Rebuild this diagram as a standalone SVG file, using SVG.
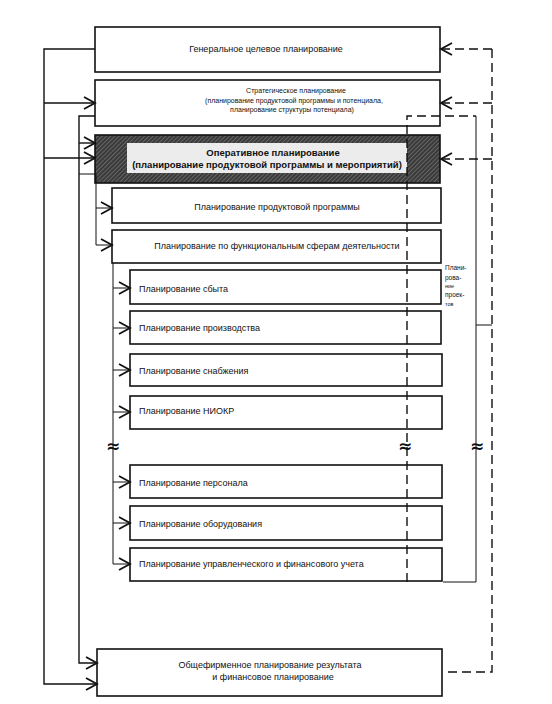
<svg xmlns="http://www.w3.org/2000/svg" width="552" height="704" viewBox="0 0 552 704">
<defs>
<pattern id="hatch" width="3" height="3" patternUnits="userSpaceOnUse" patternTransform="rotate(45)">
<rect width="3" height="3" fill="#3a3a3a"/>
<line x1="0" y1="0" x2="0" y2="3" stroke="#9a9a9a" stroke-width="0.9"/>
</pattern>
<marker id="arr" markerUnits="userSpaceOnUse" markerWidth="14" markerHeight="14" refX="11" refY="6" orient="auto" overflow="visible">
<path d="M0,0 L11,6 L0,12" fill="none" stroke="#111" stroke-width="1.8"/>
</marker>
</defs>
<style>
.box{fill:#fff;stroke:#111;stroke-width:1.6}
.t{font-family:"Liberation Sans",Arial,sans-serif;font-size:9px;fill:#111}
.s{font-size:7px}
.m{font-size:9px}
.b{font-weight:bold;font-size:9.5px}
.c{text-anchor:middle}
.ln{fill:none;stroke:#111;stroke-width:1.4}
.dash{fill:none;stroke:#111;stroke-width:1.4;stroke-dasharray:9,5}
.thin{fill:none;stroke:#111;stroke-width:1}
.brk{font-family:"DejaVu Sans",sans-serif;font-size:17px;font-weight:bold;fill:#111;text-anchor:middle}
</style>
<rect width="552" height="704" fill="#fff"/>

<g id="n1"><rect class="box" x="95" y="27" width="345" height="45"/>
<text class="t c" x="266" y="52">Генеральное целевое планирование</text></g>

<g id="n2"><rect class="box" x="95" y="80" width="345" height="46"/>
<text class="t s c" x="296" y="92.5">Стратегическое планирование</text>
<text class="t s c" x="294" y="102.5">(планирование продуктовой программы и потенциала,</text>
<text class="t s c" x="292" y="111.5">планирование структуры потенциала)</text></g>

<g id="n3"><rect x="95" y="135" width="345" height="48" fill="url(#hatch)" stroke="#111" stroke-width="1.6"/>
<rect x="127" y="143" width="280" height="30" fill="#ececec"/>
<text class="t b c" x="273" y="155.5">Оперативное планирование</text>
<text class="t b c" x="267" y="167.5">(планирование продуктовой программы и мероприятий)</text></g>

<g id="n4"><rect class="box" x="112" y="188" width="329" height="35"/>
<text class="t c" x="277" y="210">Планирование продуктовой программы</text></g>

<g id="n5"><rect class="box" x="112" y="230" width="329" height="33"/>
<text class="t c" x="277" y="249">Планирование по функциональным сферам деятельности</text></g>

<g id="n6"><rect class="box" x="130" y="270" width="311" height="34"/>
<text class="t" x="139" y="292">Планирование сбыта</text></g>

<g id="n7"><rect class="box" x="130" y="311" width="311" height="33"/>
<text class="t" x="139" y="331">Планирование производства</text></g>

<g id="n8"><rect class="box" x="130" y="354" width="312" height="32"/>
<text class="t" x="139" y="374">Планирование снабжения</text></g>

<g id="n9"><rect class="box" x="130" y="396" width="312" height="33"/>
<text class="t" x="139" y="414">Планирование НИОКР</text></g>

<g id="n10"><rect class="box" x="130" y="465" width="312" height="33"/>
<text class="t" x="139" y="486">Планирование персонала</text></g>

<g id="n11"><rect class="box" x="130" y="506" width="312" height="34"/>
<text class="t" x="139" y="527">Планирование оборудования</text></g>

<g id="n12"><rect class="box" x="130" y="548" width="312" height="33"/>
<text class="t" x="139" y="567">Планирование управленческого и финансового учета</text></g>

<g id="n13"><rect class="box" x="97" y="649" width="345" height="47"/>
<text class="t m c" x="270" y="668">Общефирменное планирование результата</text>
<text class="t m c" x="273" y="680">и финансовое планирование</text></g>

<g id="connectors">
<path class="ln" d="M95,49 H44 V684 H97" marker-end="url(#arr)"/>
<path class="ln" d="M44,103 H95" marker-end="url(#arr)"/>
<path class="ln" d="M44,158 H95" marker-end="url(#arr)"/>
<path class="ln" d="M95,116 H79 V663 H97" marker-end="url(#arr)"/>
<path class="ln" d="M79,143 H95" marker-end="url(#arr)"/>
<path class="thin" d="M79,174 H96 V245 H112" marker-end="url(#arr)"/>
<path class="thin" d="M96,208 H112" marker-end="url(#arr)"/>
<path class="thin" d="M113,263 V564 H130" marker-end="url(#arr)"/>
<path class="thin" d="M113,288 H130" marker-end="url(#arr)"/>
<path class="thin" d="M113,328 H130" marker-end="url(#arr)"/>
<path class="thin" d="M113,370 H130" marker-end="url(#arr)"/>
<path class="thin" d="M113,412 H130" marker-end="url(#arr)"/>
<path class="thin" d="M113,482 H130" marker-end="url(#arr)"/>
<path class="thin" d="M113,523 H130" marker-end="url(#arr)"/>
<path class="dash" d="M492,49 V672 H443"/>
<path class="dash" d="M492,49 H441" marker-end="url(#arr)"/>
<path class="dash" d="M492,103 H441" marker-end="url(#arr)"/>
<path class="dash" d="M492,159 H441" marker-end="url(#arr)"/>
<path class="dash" d="M407,582 V116 H476"/>
<path class="thin" d="M476,116 V582 H443"/>
<path class="thin" d="M476,325 H492"/>
<text class="brk" x="113" y="452">≈</text>
<text class="brk" x="405" y="452">≈</text>
<text class="brk" x="477" y="452">≈</text>
<text class="t" style="font-size:6.5px" x="445" y="270">Плани-</text>
<text class="t" style="font-size:6.5px" x="445" y="280">рова-</text>
<text class="t" style="font-size:5.5px" x="445" y="288">ние</text>
<text class="t" style="font-size:6.5px" x="445" y="297">проек-</text>
<text class="t" style="font-size:5.5px" x="445" y="306">тов</text>
</g>
</svg>
